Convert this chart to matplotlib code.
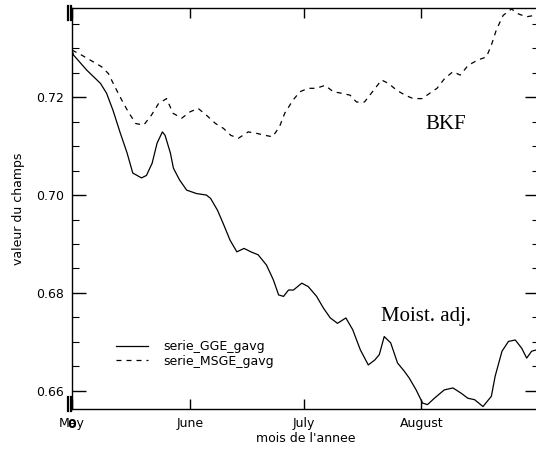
import matplotlib
matplotlib.use("Agg")
import matplotlib.pyplot as plt
from matplotlib.ticker import MultipleLocator

# day of season (0 = 1 May) and field values
gge_days = [0.0, 0.4, 3.9, 7.5, 9.1, 10.8, 12.7, 14.5, 16.0, 18.3, 19.6, 21.1, 22.4, 23.8, 24.5, 25.9, 26.7, 28.3, 30.2, 32.8, 35.4,
            36.5, 38.3, 39.8, 41.6, 43.4, 45.3, 47.1, 49.0, 51.2, 53.0, 54.4, 55.7, 57.0, 58.3, 60.5, 62.2, 64.4, 66.2,
            68.0, 69.9, 72.1, 73.9, 75.9, 78.0, 79.7, 80.9, 82.2, 83.9, 85.7, 87.5, 88.8, 90.6, 92.3, 93.6, 95.4, 98.0,
            100.3, 102.5, 104.2, 106.0, 108.2, 110.4, 111.4, 113.2, 114.9, 116.7, 118.4, 119.7, 121.0, 122.4, 124.1]
gge_vals = [0.7296, 0.7286, 0.7255, 0.7228, 0.7208, 0.7173, 0.7127, 0.7086, 0.7045, 0.7035, 0.7040, 0.7065, 0.7106, 0.7129,
            0.7122, 0.7086, 0.7055, 0.7031, 0.7010, 0.7003, 0.7000,
            0.6993, 0.6969, 0.6942, 0.6908, 0.6884, 0.6891, 0.6884, 0.6878, 0.6857, 0.6827, 0.6796, 0.6793, 0.6806,
            0.6806, 0.6820, 0.6813, 0.6793, 0.6769, 0.6749, 0.6738, 0.6749, 0.6725, 0.6684, 0.6653, 0.6663, 0.6674,
            0.6711, 0.6698, 0.6657, 0.6640, 0.6626, 0.6602, 0.6575, 0.6572, 0.6585, 0.6602, 0.6606, 0.6595, 0.6585,
            0.6582, 0.6568, 0.6589, 0.6630, 0.6681, 0.6701, 0.6704, 0.6687, 0.6667, 0.6681, 0.6684, 0.6684]

msge_days = [0.0, 2.5, 5.6, 7.8, 9.6, 11.3, 13.1, 14.8, 16.8, 18.9, 20.9, 22.8, 24.9, 26.6, 28.9, 31.1, 33.2, 35.4, 37.8, 39.9,
             41.8, 43.8, 46.4, 48.6, 50.8, 52.8, 54.6, 56.0, 58.2, 60.0, 62.2, 64.3, 66.6, 68.8, 70.9, 73.2, 74.9, 77.0,
             79.1, 81.5, 83.3, 85.5, 87.7, 89.8, 92.2, 94.2, 96.1, 98.1, 100.3, 102.2, 104.3, 106.9, 109.1, 110.4, 111.7,
             113.5, 115.7, 117.5, 119.6, 121.8]
msge_vals = [0.7296, 0.7286, 0.7272, 0.7262, 0.7248, 0.7221, 0.7194, 0.7170, 0.7146, 0.7143, 0.7163, 0.7187, 0.7197, 0.7167,
             0.7157, 0.7170, 0.7177, 0.7163, 0.7146, 0.7136, 0.7122, 0.7116, 0.7129, 0.7126, 0.7122, 0.7119, 0.7139, 0.7167,
             0.7194, 0.7211, 0.7218, 0.7218, 0.7224, 0.7211, 0.7208, 0.7204, 0.7190, 0.7190, 0.7211, 0.7235, 0.7228,
             0.7214, 0.7204, 0.7197, 0.7197, 0.7208, 0.7218, 0.7238, 0.7252, 0.7245, 0.7265, 0.7276, 0.7282, 0.7306,
             0.7337, 0.7367, 0.7380, 0.7370, 0.7364, 0.7367]

month_days = [0, 31, 61, 92]
month_names = ["May", "June", "July", "August"]

fig = plt.figure(figsize=(5.36, 4.5), dpi=100)
ax = fig.add_axes([0.1343, 0.0911, 0.8717, 0.8911])

ax.plot(gge_days, gge_vals, color="black", lw=0.9, label="serie_GGE_gavg")
ax.plot(msge_days, msge_vals, color="black", lw=0.9, dashes=(4, 4), label="serie_MSGE_gavg")

ax.set_xlim(0, 123)
ax.set_ylim(0.6563, 0.7382)

ax.set_xticks(month_days)
ax.set_xticklabels(month_names, fontsize=9)
# IDL overprints a "0" on the first month label
ax.annotate("0", xy=(0, 0), xycoords=("data", "axes fraction"), xytext=(0, -6.5),
            textcoords="offset points", ha="center", va="top", fontsize=9, fontweight="bold")

ax.yaxis.set_major_locator(MultipleLocator(0.02))
ax.yaxis.set_minor_locator(MultipleLocator(0.005))
ax.yaxis.set_major_formatter(plt.FormatStrFormatter("%.2f"))
ax.tick_params(axis="y", which="major", direction="in", length=10, width=1, labelsize=9, right=True, pad=6)
ax.tick_params(axis="y", which="minor", direction="in", length=5, width=0.8, right=True)
ax.tick_params(axis="x", which="major", direction="in", length=7, width=1, top=True, pad=6)

for sp in ax.spines.values():
    sp.set_linewidth(1)

# IDL corner marks
for xf in (-0.0095, -0.003):
    ax.plot([xf, xf], [-0.004, 0.03], transform=ax.transAxes, color="black", lw=1.6, clip_on=False)
    ax.plot([xf, xf], [0.97, 1.004], transform=ax.transAxes, color="black", lw=1.6, clip_on=False)

ax.set_xlabel("mois de l'annee", fontsize=9, labelpad=1)
ax.set_ylabel("valeur du champs", fontsize=9, labelpad=8)

ax.text(98.5, 0.7144, "BKF", fontsize=15, family="Liberation Serif", ha="center", va="center")
ax.text(93.3, 0.6751, "Moist. adj.", fontsize=15, family="Liberation Serif", ha="center", va="center")

ax.legend(loc="lower left", bbox_to_anchor=(0.07, 0.075), frameon=False, fontsize=9,
          handlelength=2.6, handletextpad=1.2, labelspacing=0.1)

fig.savefig("out.png", dpi=100)
